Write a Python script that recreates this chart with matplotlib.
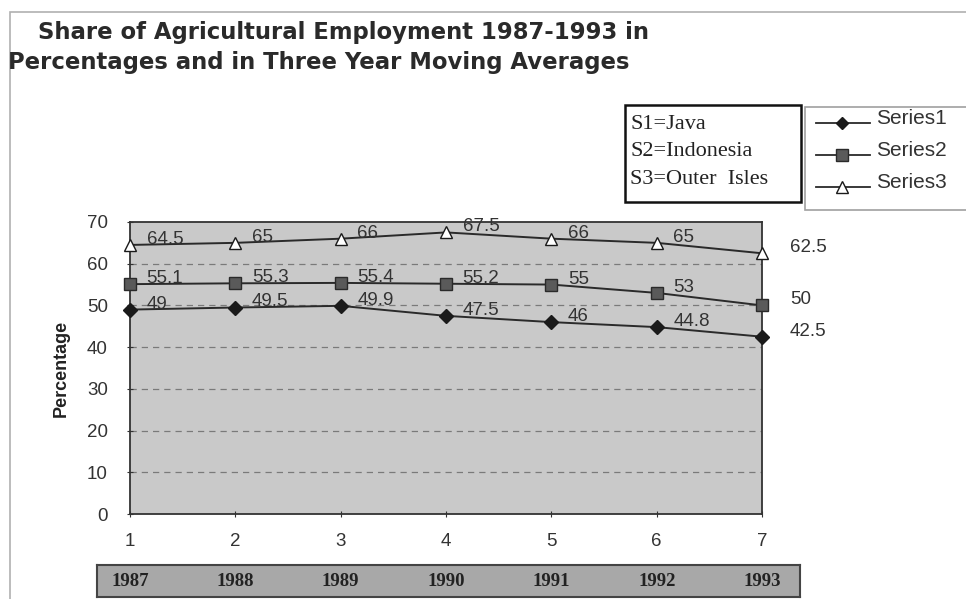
import matplotlib.pyplot as plt
from matplotlib.patches import Rectangle
from matplotlib.lines import Line2D

plt.rcParams['font.family'] = ['Liberation Sans', 'DejaVu Sans']

periods = [1, 2, 3, 4, 5, 6, 7]
years = ['1987', '1988', '1989', '1990', '1991', '1992', '1993']
java = [49, 49.5, 49.9, 47.5, 46, 44.8, 42.5]
indonesia = [55.1, 55.3, 55.4, 55.2, 55, 53, 50]
outer_isles = [64.5, 65, 66, 67.5, 66, 65, 62.5]
key_lines = ['S1=Java', 'S2=Indonesia', 'S3=Outer  Isles']
series_names = ['Series1', 'Series2', 'Series3']

fig = plt.figure(figsize=(9.66, 5.99), dpi=100)
serif = ['Liberation Serif', 'DejaVu Serif']

# outer frame of the chart
fig.patches.append(Rectangle((10 / 966, -0.01), 1.2, 1 - 12 / 599 + 0.01, transform=fig.transFigure,
                             fill=False, edgecolor='#b0b0b0', linewidth=1.2))

# title is wide in the original, DejaVu bold gets the width closer
fig.text(38 / 966, 1 - 32 / 599, 'Share of Agricultural Employment 1987-1993 in',
         fontsize=16.4, fontweight='bold', color='#2a2a2a', va='center', family='DejaVu Sans')
fig.text(8 / 966, 1 - 63 / 599, 'Percentages and in Three Year Moving Averages',
         fontsize=16.4, fontweight='bold', color='#2a2a2a', va='center', family='DejaVu Sans')

ax = fig.add_axes([0.1346, 0.1419, 0.6542, 0.4875])
ax.set_facecolor('#c9c9c9')
ax.set_xlim(1, 7)
ax.set_ylim(0, 70)
ax.set_yticks(range(0, 71, 10))
ax.set_xticks(periods)
for y in range(10, 70, 10):
    ax.axhline(y, color='#7a7a7a', linestyle=(0, (5, 4)), linewidth=0.9, zorder=1)
for s in ax.spines.values():
    s.set_color('#333333')
    s.set_linewidth(1.3)
ax.tick_params(labelsize=13.5, colors='#333333', length=4, direction='inout')
ax.tick_params(axis='x', pad=12)
ax.tick_params(axis='y', pad=14)
ax.set_ylabel('Percentage', fontsize=13, fontweight='bold', color='#222222', labelpad=12)

styles = [
    (java, dict(marker='D', markersize=7, markerfacecolor='#1a1a1a', markeredgecolor='#1a1a1a')),
    (indonesia, dict(marker='s', markersize=9, markerfacecolor='#5a5a5a', markeredgecolor='#2a2a2a')),
    (outer_isles, dict(marker='^', markersize=9, markerfacecolor='white', markeredgecolor='#1a1a1a')),
]
for vals, st in styles:
    ax.plot(periods, vals, color='#2a2a2a', linewidth=1.4, clip_on=False, zorder=3, **st)
    for i, (x, v) in enumerate(zip(periods, vals)):
        off = (12, 4) if i < len(vals) - 1 else (20, 4)
        ax.annotate(f'{v:g}', (x, v), xytext=off, textcoords='offset points',
                    fontsize=13.5, color='#333333', va='center', ha='left',
                    annotation_clip=False, zorder=4)

# year strip below the axis
yr = fig.add_axes([0.1004, 0.0033, 0.7277, 0.0534])
yr.set_facecolor('#a8a8a8')
yr.set_xlim(0.686, 7.36)
yr.set_ylim(0, 1)
yr.set_xticks([])
yr.set_yticks([])
for s in yr.spines.values():
    s.set_color('#444444')
    s.set_linewidth(1.5)
for x, lab in zip(periods, years):
    yr.text(x, 0.5, lab, ha='center', va='center', fontsize=13.5, fontweight='bold',
            family=serif, color='#222222')

# key box
fig.patches.append(Rectangle((625 / 966, 1 - 202 / 599), 176 / 966, 97 / 599,
                             transform=fig.transFigure, fill=True, facecolor='white',
                             edgecolor='#111111', linewidth=1.8))
for k, t in enumerate(key_lines):
    fig.text(630 / 966, 1 - (124 + 28 * k) / 599, t, fontsize=16,
             family=serif, color='#222222', va='center')

# series legend
fig.patches.append(Rectangle((805 / 966, 1 - 210 / 599), 170 / 966, 103 / 599,
                             transform=fig.transFigure, fill=True, facecolor='white',
                             edgecolor='#a0a0a0', linewidth=1.2))
for k, (name, (vals, st)) in enumerate(zip(series_names, styles)):
    yy = 1 - (123 + 32 * k) / 599
    fig.lines.append(Line2D([816 / 966, 870 / 966], [yy, yy], transform=fig.transFigure,
                            color='#2a2a2a', linewidth=1.3))
    mk = dict(st)
    mk['markersize'] = mk['markersize'] - 1
    fig.lines.append(Line2D([842 / 966], [yy], transform=fig.transFigure, linestyle='none', **mk))
    fig.text(876 / 966, yy + 5 / 599, name, fontsize=15, color='#333333', va='center')

fig.savefig('out.png', dpi=100)
